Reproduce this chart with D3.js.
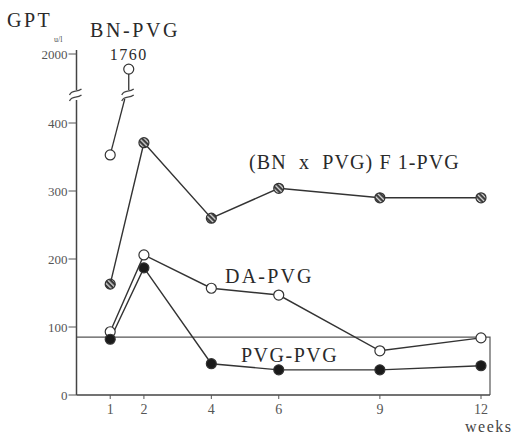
<!DOCTYPE html>
<html>
<head>
<meta charset="utf-8">
<script src="https://cdn.jsdelivr.net/npm/d3@7"></script>
<style>
	body { margin: 0; background: #fff; }
	svg text { font-family: "Liberation Serif", "DejaVu Serif", serif; fill: #2a2a2a; white-space: pre; }
	.tick-label { fill: #555; font-size: 13px; }
	.lbl { font-size: 20px; letter-spacing: 1.6px; }
</style>
</head>
<body>
<svg id="chart" width="513" height="436" font-family="Liberation Serif, serif"></svg>
<script>
'use strict';

var LINE_COLOR = "#333";

// weeks after transplantation
var weeks = [1, 2, 4, 6, 9, 12];
var xTicks = [1, 2, 4, 6, 9, 12];
var yTicks = [0, 100, 200, 300, 400];
var yTopTick = 2000;

// GPT (u/l) per group
var f1Values = [163, 371, 260, 304, 290, 290];
var daValues = [93, 206, 157, 147, 65, 84];
var pvgValues = [82, 187, 46, 37, 37, 43];

// BN-PVG: one point below the break, one above it
var bnWeeks = [1, 1.55];
var bnValues = [353, 1760];

var normalLimit = 85;

var svg = d3.select("#chart");

var x = d3.scaleLinear().domain([0, 12]).range([76.5, 481]);
var y = d3.scaleLinear().domain([0, 400]).range([395, 123]);
var yTop = d3.scaleLinear().domain([1000, 2000]).range([117, 54]);

var breakY = 96;

// defs: hatched marker fill
var defs = svg.append("defs");
var pat = defs.append("pattern")
	.attr("id", "hatch")
	.attr("patternUnits", "userSpaceOnUse")
	.attr("width", 3.5)
	.attr("height", 3.5)
	.attr("patternTransform", "rotate(-45)");
pat.append("rect").attr("width", 3.5).attr("height", 3.5).attr("fill", "#3a3a3a");
pat.append("rect").attr("width", 1.3).attr("height", 3.5).attr("fill", "#ddd");

// normal range box
svg.append("path")
	.attr("d", "M" + x(0) + "," + y(normalLimit) + "H" + (x(12) + 9) + "V" + y(0))
	.attr("fill", "none")
	.attr("stroke", "#555")
	.attr("stroke-width", 1.2);

// x axis
var gx = svg.append("g");
gx.append("line")
	.attr("x1", x(0)).attr("x2", x(12) + 9)
	.attr("y1", y(0)).attr("y2", y(0))
	.attr("stroke", "#444").attr("stroke-width", 1.5);
gx.selectAll(".xt")
	.data(xTicks)
	.enter().append("line")
		.attr("x1", function(d) { return x(d); })
		.attr("x2", function(d) { return x(d); })
		.attr("y1", y(0))
		.attr("y2", y(0) + 4)
		.attr("stroke", "#555");
gx.selectAll(".xl")
	.data(xTicks)
	.enter().append("text")
		.attr("class", "tick-label")
		.attr("x", function(d) { return x(d); })
		.attr("y", y(0) + 19)
		.style("font-size", "14px")
		.style("text-anchor", "middle")
		.text(function(d) { return d; });

// y axis, broken between 400 and 2000
var gy = svg.append("g");
gy.append("line")
	.attr("x1", x(0)).attr("x2", x(0))
	.attr("y1", y(0)).attr("y2", breakY + 4)
	.attr("stroke", "#444").attr("stroke-width", 1.5);
gy.append("line")
	.attr("x1", x(0)).attr("x2", x(0))
	.attr("y1", breakY - 6).attr("y2", yTop(yTopTick) - 4)
	.attr("stroke", "#444").attr("stroke-width", 1.5);
gy.selectAll(".yt")
	.data(yTicks)
	.enter().append("line")
		.attr("x1", x(0) - 8)
		.attr("x2", x(0))
		.attr("y1", function(d) { return y(d); })
		.attr("y2", function(d) { return y(d); })
		.attr("stroke", "#555");
gy.selectAll(".yl")
	.data(yTicks)
	.enter().append("text")
		.attr("class", "tick-label")
		.attr("x", x(0) - 9)
		.attr("y", function(d) { return y(d); })
		.attr("dy", ".35em")
		.style("text-anchor", "end")
		.text(function(d) { return d; });
gy.append("line")
	.attr("x1", x(0) - 8).attr("x2", x(0))
	.attr("y1", yTop(yTopTick)).attr("y2", yTop(yTopTick))
	.attr("stroke", "#555");
gy.append("text")
	.attr("class", "tick-label")
	.attr("x", x(0) - 9)
	.attr("y", yTop(yTopTick))
	.attr("dy", ".35em")
	.style("text-anchor", "end")
	.text(yTopTick);

function breakMark(g, cx, cy) {
	// two little wavy strokes ("≈")
	[-3, 3].forEach(function(off) {
		g.append("path")
			.attr("d", "M" + (cx - 6) + "," + (cy + off + 3) +
				" C" + (cx - 3) + "," + (cy + off - 3) + " " + (cx + 1) + "," + (cy + off + 1) + " " + (cx + 6) + "," + (cy + off - 3))
			.attr("fill", "none")
			.attr("stroke", "#444")
			.attr("stroke-width", 1.3);
	});
}
breakMark(svg, x(0) - 1, breakY - 1);

// BN-PVG broken line
var bn0 = [x(bnWeeks[0]), y(bnValues[0])];
var bn1 = [x(bnWeeks[1]), yTop(bnValues[1])];
svg.append("line")
	.attr("x1", bn0[0]).attr("y1", bn0[1])
	.attr("x2", bn1[0] - 4).attr("y2", breakY + 3)
	.attr("stroke", LINE_COLOR).attr("stroke-width", 1.3);
svg.append("line")
	.attr("x1", bn1[0]).attr("y1", breakY - 6)
	.attr("x2", bn1[0]).attr("y2", bn1[1])
	.attr("stroke", LINE_COLOR).attr("stroke-width", 1.3);
breakMark(svg, bn1[0] - 1, breakY - 1);

// series lines
var line = d3.line()
	.x(function(d) { return x(d.w); })
	.y(function(d) { return y(d.v); });

function pairs(vals) {
	return weeks.map(function(w, i) { return { w: w, v: vals[i] }; });
}

var series = [
	{ data: pairs(f1Values), fill: "url(#hatch)" },
	{ data: pairs(daValues), fill: "#fff" },
	{ data: pairs(pvgValues), fill: "#1a1a1a" }
];

series.forEach(function(s) {
	svg.append("path")
		.datum(s.data)
		.attr("d", line)
		.attr("fill", "none")
		.attr("stroke", LINE_COLOR)
		.attr("stroke-width", 1.4);
});

series.forEach(function(s) {
	svg.append("g")
		.selectAll("circle")
		.data(s.data)
		.enter().append("circle")
			.attr("cx", function(d) { return x(d.w); })
			.attr("cy", function(d) { return y(d.v); })
			.attr("r", 5)
			.attr("fill", s.fill)
			.attr("stroke", "#333")
			.attr("stroke-width", 1.2);
});

// BN-PVG points (open)
svg.append("circle").attr("cx", bn0[0]).attr("cy", bn0[1]).attr("r", 5)
	.attr("fill", "#fff").attr("stroke", "#333").attr("stroke-width", 1.2);
svg.append("circle").attr("cx", bn1[0]).attr("cy", bn1[1]).attr("r", 5)
	.attr("fill", "#fff").attr("stroke", "#333").attr("stroke-width", 1.2);

// labels
svg.append("text").attr("class", "lbl").attr("x", 7).attr("y", 27).style("letter-spacing", "2.5px").text("GPT");
svg.append("text").attr("x", 54).attr("y", 42).style("font-size", "8px").style("fill", "#555").text("u/l");
svg.append("text").attr("class", "lbl").attr("x", 90).attr("y", 37).style("letter-spacing", "2.6px").text("BN-PVG");
svg.append("text").attr("x", bn1[0]).attr("y", 60).style("font-size", "16px").style("letter-spacing", "1.5px")
	.style("text-anchor", "middle").text(bnValues[1]);
svg.append("text").attr("class", "lbl").attr("x", 249).attr("y", 169).style("letter-spacing", "1.1px").text("(BN  x  PVG) F 1-PVG");
svg.append("text").attr("class", "lbl").attr("x", 225).attr("y", 283).style("letter-spacing", "2.2px").text("DA-PVG");
svg.append("text").attr("class", "lbl").attr("x", 241).attr("y", 362).style("letter-spacing", "1.5px").text("PVG-PVG");
svg.append("text").attr("x", 465).attr("y", 432).style("font-size", "16px").style("letter-spacing", "1.5px").style("fill", "#444").text("weeks");
</script>
</body>
</html>
